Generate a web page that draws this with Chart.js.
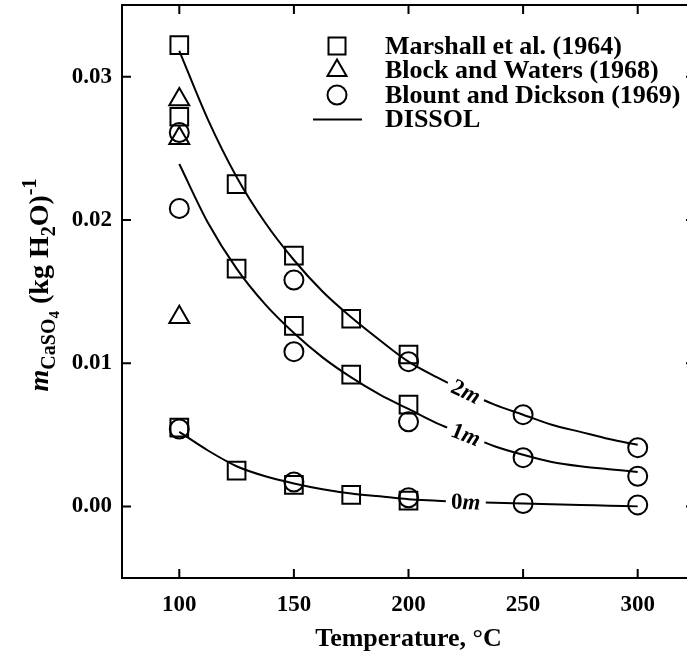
<!DOCTYPE html>
<html>
<head>
<meta charset="utf-8">
<script src="https://cdn.jsdelivr.net/npm/chart.js@4.4.1/dist/chart.umd.min.js"></script>
<style>
  html, body { margin: 0; padding: 0; background: #fff; overflow: hidden; }
  #wrap { width: 687px; height: 662px; overflow: hidden; }
</style>
</head>
<body>
<div id="wrap"><canvas id="chart" width="710" height="662"></canvas></div>
<script>
const xTicks = [100, 150, 200, 250, 300]
const yTicks = [0, 0.01, 0.02, 0.03]

// Marshall et al. (1964), squares
const marshallT = [100, 125, 150, 175, 200]
const marshall2m = [0.0322, 0.0225, 0.0175, 0.0131, 0.0106]
const marshall1m = [0.0272, 0.0166, 0.0126, 0.0092, 0.0071]
const marshall0m = [0.0055, 0.0025, 0.0015, 0.0008, 0.0004]

// Block and Waters (1968), triangles
const blockT = [100, 100, 100]
const blockM = [0.0284, 0.0257, 0.0132]

// Blount and Dickson (1969), circles
const blountT = [100, 150, 200, 250, 300]
const blount2m = [0.0261, 0.0158, 0.0101, 0.0064, 0.0041]
const blount1m = [0.0208, 0.0108, 0.0059, 0.0034, 0.0021]
const blount0m = [0.0054, 0.0017, 0.0006, 0.0002, 0.0001]

// DISSOL curves
const dissolT = [100, 112.5, 125, 137.5, 150, 162.5, 175, 187.5, 200, 212.5, 225, 237.5, 250, 262.5, 275, 287.5, 300]
const dissol2m = [0.0318, 0.0270, 0.0230, 0.0198, 0.0172, 0.0150, 0.0132, 0.0116, 0.0101, 0.0090, 0.0080, 0.0071, 0.0064, 0.0057, 0.0052, 0.0047, 0.0043]
const dissol1m = [0.0239, 0.0198, 0.0166, 0.0141, 0.0121, 0.0104, 0.0090, 0.0078, 0.0068, 0.0058, 0.0050, 0.0042, 0.0036, 0.0031, 0.0028, 0.0026, 0.0024]
const dissol0m = [0.0052, 0.0039, 0.0028, 0.0021, 0.0016, 0.0012, 0.0009, 0.0007, 0.0005, 0.0004, 0.0003, 0.00025, 0.0002, 0.00015, 0.0001, 0.00005, 0.0000]

const curveNames = ['2', '1', '0']
const legendNames = ['Marshall et al. (1964)', 'Block and Waters (1968)', 'Blount and Dickson (1969)', 'DISSOL']

const serif = "'Liberation Serif', 'Times New Roman', serif"

const pts = (xs, ys) => ys.map((v, i) => ({ x: xs[i], y: v }))

function markerSet (label, style, radius, groups) {
  return {
    label,
    data: groups.flat(),
    showLine: false,
    pointStyle: style,
    pointRadius: radius,
    pointBorderWidth: 2,
    pointBorderColor: '#000',
    pointBackgroundColor: 'rgba(0,0,0,0)'
  }
}

function curveSet (label, ys) {
  return {
    label,
    data: pts(dissolT, ys),
    showLine: true,
    borderColor: '#000',
    borderWidth: 2,
    pointRadius: 0,
    cubicInterpolationMode: 'monotone'
  }
}

// frame, inward ticks, legend, curve labels, y title
const decor = {
  id: 'decor',
  afterDraw (chart) {
    const { ctx, chartArea: a, scales: { x, y } } = chart
    ctx.save()
    ctx.strokeStyle = '#000'
    ctx.fillStyle = '#000'
    ctx.lineWidth = 2
    ctx.strokeRect(a.left, a.top, a.right - a.left, a.bottom - a.top)
    ctx.beginPath()
    xTicks.forEach(v => {
      const px = x.getPixelForValue(v)
      ctx.moveTo(px, a.bottom); ctx.lineTo(px, a.bottom - 9)
      ctx.moveTo(px, a.top); ctx.lineTo(px, a.top + 9)
    })
    yTicks.forEach(v => {
      const py = y.getPixelForValue(v)
      ctx.moveTo(a.left, py); ctx.lineTo(a.left + 9, py)
      ctx.moveTo(a.right, py); ctx.lineTo(a.right - 9, py)
    })
    ctx.stroke()

    // curve labels with a white gap in the line
    const k = dissolT.indexOf(225)
    ;[dissol2m, dissol1m, dissol0m].forEach((ys, i) => {
      const cx = x.getPixelForValue(dissolT[k])
      const cy = y.getPixelForValue(ys[k])
      const x0 = x.getPixelForValue(dissolT[k - 1]); const y0 = y.getPixelForValue(ys[k - 1])
      const x1 = x.getPixelForValue(dissolT[k + 1]); const y1 = y.getPixelForValue(ys[k + 1])
      const ang = Math.atan2(y1 - y0, x1 - x0)
      ctx.save()
      ctx.translate(cx, cy)
      ctx.rotate(ang)
      ctx.fillStyle = '#fff'
      ctx.fillRect(-20, -9, 40, 18)
      ctx.fillStyle = '#000'
      ctx.textBaseline = 'middle'
      ctx.font = 'bold 23px ' + serif
      const w1 = ctx.measureText(curveNames[i]).width
      ctx.font = 'italic bold 23px ' + serif
      const w2 = ctx.measureText('m').width
      const sx = -(w1 + w2) / 2
      ctx.font = 'bold 23px ' + serif
      ctx.fillText(curveNames[i], sx, 1)
      ctx.font = 'italic bold 23px ' + serif
      ctx.fillText('m', sx + w1, 1)
      ctx.restore()
    })

    // legend
    const lx = 337
    const tx = 385
    const rows = [46, 70.5, 95, 119.5]
    ctx.lineWidth = 2
    ctx.strokeRect(lx - 8.5, rows[0] - 8.5, 17, 17)
    ctx.beginPath()
    const tr = 11
    ctx.moveTo(lx, rows[1] - tr)
    ctx.lineTo(lx + tr * Math.sin(2 * Math.PI / 3), rows[1] + tr / 2)
    ctx.lineTo(lx - tr * Math.sin(2 * Math.PI / 3), rows[1] + tr / 2)
    ctx.closePath()
    ctx.stroke()
    ctx.beginPath()
    ctx.arc(lx, rows[2], 9.5, 0, 2 * Math.PI)
    ctx.stroke()
    ctx.beginPath()
    ctx.moveTo(313, rows[3]); ctx.lineTo(362, rows[3])
    ctx.stroke()
    ctx.font = 'bold 26px ' + serif
    ctx.textBaseline = 'middle'
    legendNames.forEach((t, i) => ctx.fillText(t, tx, rows[i] + 1))

    // y axis title
    const parts = [
      { t: 'm', f: 'italic bold 28px', dy: 0 },
      { t: 'CaSO', f: 'bold 20px', dy: 7 },
      { t: '4', f: 'bold 15px', dy: 11 },
      { t: ' (kg H', f: 'bold 28px', dy: 0 },
      { t: '2', f: 'bold 20px', dy: 7 },
      { t: 'O)', f: 'bold 28px', dy: 0 },
      { t: '-1', f: 'bold 20px', dy: -12 }
    ]
    let total = 0
    parts.forEach(p => { ctx.font = p.f + ' ' + serif; p.w = ctx.measureText(p.t).width; total += p.w })
    ctx.save()
    ctx.translate(48, 285)
    ctx.rotate(-Math.PI / 2)
    ctx.textBaseline = 'alphabetic'
    let cur = -total / 2
    parts.forEach(p => {
      ctx.font = p.f + ' ' + serif
      ctx.fillText(p.t, cur, p.dy)
      cur += p.w
    })
    ctx.restore()
    ctx.restore()
  }
}

new Chart(document.getElementById('chart'), {
  type: 'scatter',
  data: {
    datasets: [
      markerSet('Marshall et al. (1964)', 'rect', 12.5, [pts(marshallT, marshall2m), pts(marshallT, marshall1m), pts(marshallT, marshall0m)]),
      markerSet('Block and Waters (1968)', 'triangle', 11.5, [pts(blockT, blockM)]),
      markerSet('Blount and Dickson (1969)', 'circle', 9.5, [pts(blountT, blount2m), pts(blountT, blount1m), pts(blountT, blount0m)]),
      curveSet('DISSOL 2m', dissol2m),
      curveSet('DISSOL 1m', dissol1m),
      curveSet('DISSOL 0m', dissol0m)
    ]
  },
  options: {
    responsive: false,
    animation: false,
    events: [],
    layout: { autoPadding: false, padding: { top: 5, right: 15, left: 0, bottom: 0 } },
    plugins: { legend: { display: false }, tooltip: { enabled: false } },
    scales: {
      x: {
        type: 'linear',
        min: 75,
        max: 325,
        afterBuildTicks: s => { s.ticks = xTicks.map(v => ({ value: v })) },
        afterFit: s => { s.height = 84; s.paddingLeft = 0; s.paddingRight = 0 },
        grid: { display: false, drawTicks: false },
        border: { display: false },
        ticks: { color: '#000', padding: 13, maxRotation: 0, font: { family: serif, size: 23, weight: 'bold' } },
        title: { display: true, text: 'Temperature, °C', color: '#000', padding: { top: 0, bottom: 7 }, font: { family: serif, size: 26, weight: 'bold' } }
      },
      y: {
        min: -0.005,
        max: 0.035,
        afterBuildTicks: s => { s.ticks = yTicks.map(v => ({ value: v })) },
        afterFit: s => { s.width = 122; s.paddingTop = 0; s.paddingBottom = 0 },
        grid: { display: false, drawTicks: false },
        border: { display: false },
        ticks: { color: '#000', padding: 10, callback: v => v.toFixed(2), font: { family: serif, size: 23, weight: 'bold' } }
      }
    }
  },
  plugins: [decor]
})
</script>
</body>
</html>
